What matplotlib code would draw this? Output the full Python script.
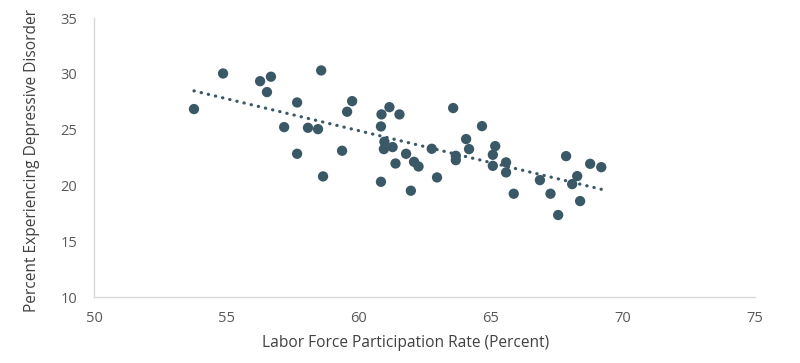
import numpy as np
import matplotlib
matplotlib.use("Agg")
import matplotlib.pyplot as plt

plt.rcParams['font.family'] = ['Open Sans', 'DejaVu Sans']

labor_force = [53.78, 54.88, 56.28, 56.69, 56.54, 57.68, 57.19, 58.09, 58.47, 58.59,
               57.68, 58.66, 59.38, 59.57, 59.76, 60.87, 61.17, 61.55, 60.85, 60.98,
               60.96, 61.29, 60.85, 61.40, 61.80, 62.10, 62.27, 61.98, 62.77, 62.97,
               63.58, 63.68, 63.68, 64.07, 64.18, 64.67, 65.08, 65.08, 65.17, 65.58,
               65.58, 65.87, 66.86, 67.26, 67.55, 67.85, 68.08, 68.27, 68.38, 68.76,
               69.18]
depressive = [26.85, 30.04, 29.35, 29.75, 28.37, 27.44, 25.23, 25.17, 25.05, 30.31,
              22.84, 20.81, 23.11, 26.61, 27.56, 26.37, 27.02, 26.37, 25.29, 23.92,
              23.26, 23.44, 20.33, 21.97, 22.84, 22.12, 21.70, 19.53, 23.29, 20.72,
              26.94, 22.66, 22.27, 24.16, 23.26, 25.32, 22.75, 21.76, 23.53, 22.07,
              21.17, 19.26, 20.48, 19.26, 17.35, 22.63, 20.12, 20.84, 18.60, 21.94,
              21.64]

x_ticks = [50, 55, 60, 65, 70, 75]
y_ticks = [10, 15, 20, 25, 30, 35]

color = '#3a5866'
text_color = '#595959'

fig = plt.figure(figsize=(8, 3.63), dpi=100)
ax = fig.add_axes([0.1175, 0.1818, 0.8265, 0.7682])

ax.scatter(labor_force, depressive, s=55, color=color, edgecolors='none', zorder=3)

coef = np.polyfit(labor_force, depressive, 1)
xs = np.array([min(labor_force), max(labor_force)])
ax.plot(xs, np.polyval(coef, xs), color=color, lw=2.3,
        linestyle=(0, (0.1, 2.2)), dash_capstyle='round', zorder=2)

ax.set_xlim(50, 75)
ax.set_ylim(10, 35)
ax.set_xticks(x_ticks)
ax.set_yticks(y_ticks)
ax.tick_params(length=0, labelsize=10.5, labelcolor=text_color)
ax.tick_params(axis='x', pad=10)
ax.tick_params(axis='y', pad=12)

for s in ['top', 'right']:
    ax.spines[s].set_visible(False)
for s in ['left', 'bottom']:
    ax.spines[s].set_color('#d9d9d9')
    ax.spines[s].set_linewidth(1)

ax.set_xlabel('Labor Force Participation Rate (Percent)', fontsize=11.2, color='#404040')
ax.set_ylabel('Percent Experiencing Depressive Disorder', fontsize=11.2, color='#404040')
ax.xaxis.set_label_coords(0.471, -0.135)
ax.yaxis.set_label_coords(-0.081, 0.49)

fig.savefig('out.png', dpi=100)
